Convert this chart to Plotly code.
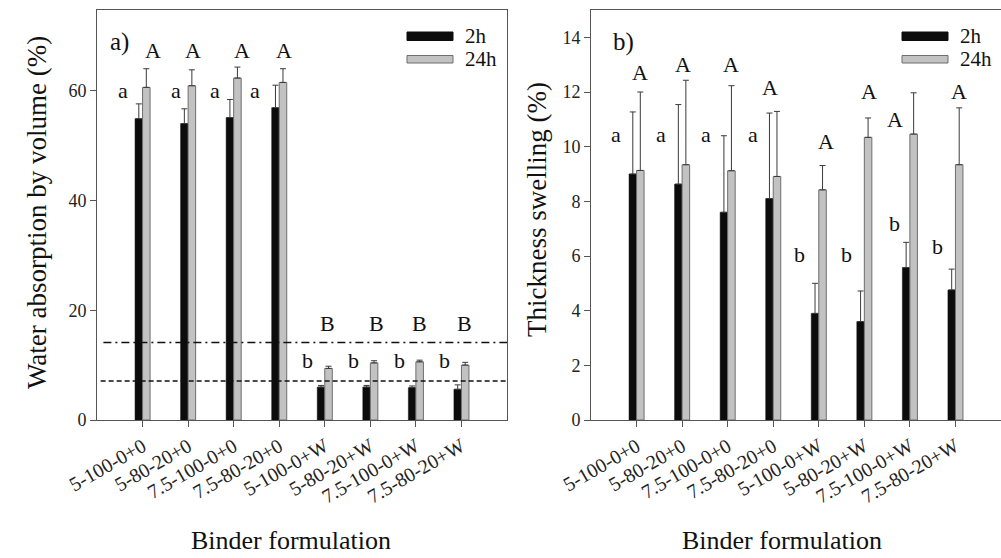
import plotly.graph_objects as go

# ---------------- data ----------------
categories = ["5-100-0+0", "5-80-20+0", "7.5-100-0+0", "7.5-80-20+0",
              "5-100-0+W", "5-80-20+W", "7.5-100-0+W", "7.5-80-20+W"]

# a) Water absorption by volume (%)
wa_2h = [54.9, 54.0, 55.1, 56.9, 6.0, 6.0, 5.9, 5.6]
wa_2h_err = [2.7, 2.7, 3.3, 4.1, 0.3, 0.3, 0.3, 0.8]
wa_24h = [60.6, 60.9, 62.3, 61.5, 9.4, 10.4, 10.6, 10.0]
wa_24h_err = [3.4, 2.9, 2.0, 2.5, 0.4, 0.4, 0.3, 0.5]
wa_ref_lines = [14.1, 7.1]          # dash-dot, dashed

# b) Thickness swelling (%)
ts_2h = [9.0, 8.63, 7.6, 8.1, 3.9, 3.6, 5.58, 4.76]
ts_2h_err = [2.27, 2.91, 2.8, 3.13, 1.1, 1.12, 0.92, 0.76]
ts_24h = [9.13, 9.34, 9.12, 8.91, 8.42, 10.34, 10.46, 9.34]
ts_24h_err = [2.87, 3.09, 3.11, 2.38, 0.89, 0.71, 1.51, 2.08]

# significance letters
wa_letters_2h = ["a", "a", "a", "a", "b", "b", "b", "b"]
wa_letters_24h = ["A", "A", "A", "A", "B", "B", "B", "B"]
ts_letters_2h = ["a", "a", "a", "a", "b", "b", "b", "b"]
ts_letters_24h = ["A", "A", "A", "A", "A", "A", "A", "A"]

series_names = ["2h", "24h"]
x_title = "Binder formulation"
y_title_a = "Water absorption by volume (%)"
y_title_b = "Thickness swelling (%)"

# ---------------- style ----------------
FONT = "Liberation Serif"
BLACK = "#0c0c0c"
GRAY = "#c2c2c2"
GRAY_LINE = "#6e6e6e"
AX = "#555555"
ERR = "#3a3a3a"

# letter label placement (offset from category index, y in data units)
wa_l2_dx = [-0.42, -0.26, -0.40, -0.53, -0.37, -0.37, -0.35, -0.37]
wa_l2_y = [60.0] * 4 + [10.9] * 4
wa_l24_dx = [0.22, 0.11, 0.18, 0.11, 0.07, 0.13, 0.07, 0.07]
wa_l24_y = [67.3] * 4 + [17.6] * 4
ts_l2_dx = [-0.46, -0.46, -0.48, -0.44, -0.42, -0.40, -0.33, -0.40]
ts_l2_y = [10.44] * 4 + [6.04, 6.04, 7.2, 6.35]
ts_l24_dx = [0.07, 0.02, 0.07, -0.07, 0.15, 0.11, -0.33, 0.07]
ts_l24_y = [12.7, 13.0, 13.0, 12.15, 10.2, 12.03, 11.0, 12.03]

fig = go.Figure()


def add_pair(xa, ya, v2, e2, v24, e24):
    fig.add_trace(go.Bar(
        x=categories, y=v2, name=series_names[0], xaxis=xa, yaxis=ya,
        offsetgroup="a", marker=dict(color=BLACK, line=dict(color=BLACK, width=0.5)),
        error_y=dict(type="data", symmetric=False, array=e2,
                     arrayminus=[0] * len(e2), color=ERR, thickness=1, width=3),
        showlegend=False))
    fig.add_trace(go.Bar(
        x=categories, y=v24, name=series_names[1], xaxis=xa, yaxis=ya,
        offsetgroup="b", marker=dict(color=GRAY, line=dict(color=GRAY_LINE, width=1)),
        error_y=dict(type="data", symmetric=False, array=e24,
                     arrayminus=[0] * len(e24), color=ERR, thickness=1, width=3),
        showlegend=False))


add_pair("x", "y", wa_2h, wa_2h_err, wa_24h, wa_24h_err)
add_pair("x2", "y2", ts_2h, ts_2h_err, ts_24h, ts_24h_err)

annotations = []


def letters(xref, yref, labels, dx, ys):
    for i, (t, d, yy) in enumerate(zip(labels, dx, ys)):
        annotations.append(dict(x=i + d, y=yy, xref=xref, yref=yref, text=t,
                                showarrow=False, font=dict(family=FONT, size=22, color="#111"),
                                xanchor="center", yanchor="middle"))


letters("x", "y", wa_letters_2h, wa_l2_dx, wa_l2_y)
letters("x", "y", wa_letters_24h, wa_l24_dx, wa_l24_y)
letters("x2", "y2", ts_letters_2h, ts_l2_dx, ts_l2_y)
letters("x2", "y2", ts_letters_24h, ts_l24_dx, ts_l24_y)

H = 558.0
W = 1001.0


def px_x(p):
    return p / W


def px_y(p):
    return 1 - p / H


def paper_text(x, y, text, size, angle=0, xanchor="center", yanchor="middle"):
    annotations.append(dict(x=px_x(x), y=px_y(y), xref="paper", yref="paper", text=text,
                            showarrow=False, xanchor=xanchor, yanchor=yanchor,
                            textangle=angle, font=dict(family=FONT, size=size, color="#111")))


# panel labels
paper_text(119, 42, "a)", 25)
paper_text(623, 42, "b)", 25)

# axis titles
paper_text(291, 557, x_title, 26, yanchor="bottom")
paper_text(782, 557, x_title, 26, yanchor="bottom")
paper_text(37, 213, y_title_a, 27, angle=-90)
paper_text(537, 210, y_title_b, 27, angle=-90)

shapes = []
# custom legends
for lx, tx in [(407, 463), (902, 958)]:
    shapes.append(dict(type="rect", xref="paper", yref="paper",
                       x0=px_x(lx), x1=px_x(lx + 46), y0=px_y(40.5), y1=px_y(32),
                       fillcolor=BLACK, line=dict(color=BLACK, width=1)))
    shapes.append(dict(type="rect", xref="paper", yref="paper",
                       x0=px_x(lx), x1=px_x(lx + 46), y0=px_y(63), y1=px_y(55.5),
                       fillcolor=GRAY, line=dict(color=GRAY_LINE, width=1)))
    paper_text(tx, 36, series_names[0], 21, xanchor="left")
    paper_text(tx, 59, series_names[1], 21, xanchor="left")

# reference lines in panel a
shapes.append(dict(type="line", xref="x", yref="y", x0=-0.86, x1=8, y0=wa_ref_lines[0],
                   y1=wa_ref_lines[0], line=dict(color="#111", width=1.5, dash="8px,4px,2px,4px")))
shapes.append(dict(type="line", xref="x", yref="y", x0=-0.92, x1=8, y0=wa_ref_lines[1],
                   y1=wa_ref_lines[1], line=dict(color="#111", width=1.5, dash="5px,3px")))

ydom = [1 - 420 / H, 1 - 10 / H]

axis_common = dict(showline=True, linecolor=AX, linewidth=1, mirror=True,
                   ticks="outside", tickcolor=AX, ticklen=6, showgrid=False,
                   zeroline=False, automargin=False)
xtf = dict(family=FONT, size=20, color="#222")
ytf = dict(family=FONT, size=18, color="#222")

fig.update_layout(
    width=1001, height=558,
    margin=dict(l=0, r=0, t=0, b=0, autoexpand=False),
    paper_bgcolor="white", plot_bgcolor="white",
    barmode="group", bargap=0.67, bargroupgap=0,
    showlegend=False,
    font=dict(family=FONT, color="#111"),
    xaxis=dict(domain=[97 / W, 507 / W], anchor="y", range=[-1, 8],
               type="category", tickangle=-30, tickfont=xtf, **axis_common),
    yaxis=dict(domain=ydom, anchor="x", range=[0, 74.7], tickvals=[0, 20, 40, 60],
               tickfont=ytf, **axis_common),
    xaxis2=dict(domain=[591 / W, 1.0], anchor="y2", range=[-1, 8],
                type="category", tickangle=-30, tickfont=xtf, **axis_common),
    yaxis2=dict(domain=ydom, anchor="x2", range=[0, 15], tickvals=[0, 2, 4, 6, 8, 10, 12, 14],
                tickfont=ytf, **axis_common),
    annotations=annotations,
    shapes=shapes,
)

fig.write_html("out.html")
